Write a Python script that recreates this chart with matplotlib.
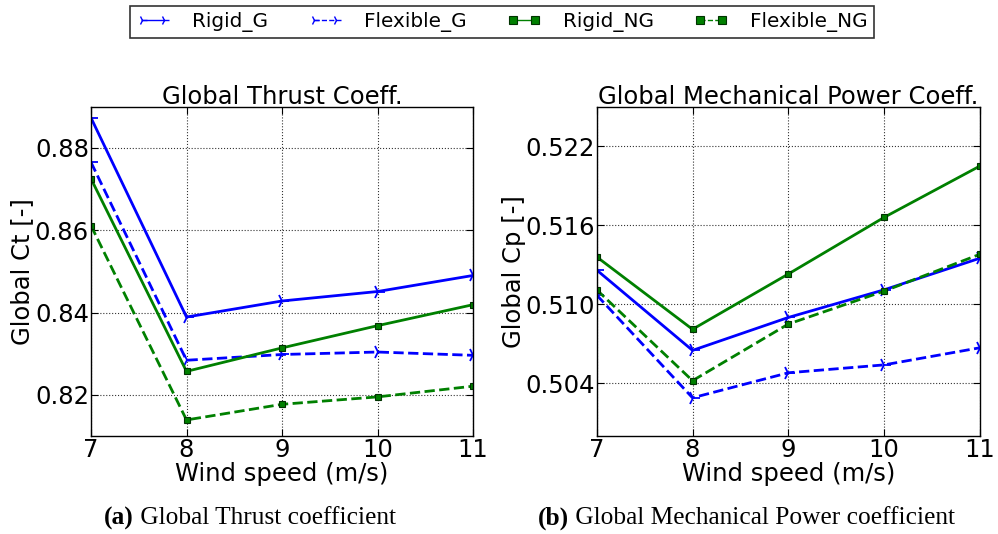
import matplotlib
matplotlib.use("Agg")
import matplotlib.pyplot as plt
from matplotlib.lines import Line2D

plt.rcParams["font.family"] = ["DejaVu Sans"]

wind = [7, 8, 9, 10, 11]
series = ["Rigid_G", "Flexible_G", "Rigid_NG", "Flexible_NG"]
ct_rigid_g = [0.8873, 0.8389, 0.8428, 0.8451, 0.8490]
ct_flex_g = [0.8765, 0.8284, 0.8298, 0.8304, 0.8296]
ct_rigid_ng = [0.8725, 0.8257, 0.8314, 0.8368, 0.8419]
ct_flex_ng = [0.8611, 0.8139, 0.8177, 0.8195, 0.8221]
cp_rigid_g = [0.5126, 0.5065, 0.5090, 0.5111, 0.5135]
cp_flex_g = [0.5107, 0.5029, 0.5048, 0.5054, 0.5067]
cp_rigid_ng = [0.5136, 0.5081, 0.5123, 0.5166, 0.5205]
cp_flex_ng = [0.5111, 0.5042, 0.5085, 0.5110, 0.5138]
ct_ticks = [0.82, 0.84, 0.86, 0.88]
cp_ticks = [0.504, 0.510, 0.516, 0.522]

colors = ["#0000ff", "#0000ff", "#008000", "#008000"]
linestyles = ["-", "--", "-", "--"]
markers = ["4", "4", "s", "s"]

FS = 17.5

fig = plt.figure(figsize=(9.98, 5.34), dpi=100)
W, H = 998, 534
ax1 = fig.add_axes([91 / W, 1 - 436 / H, (473 - 91) / W, (436 - 106.7) / H])
ax2 = fig.add_axes([596.7 / W, 1 - 436 / H, (980 - 596.7) / W, (436 - 106.7) / H])

def style(i, legend=False):
    d = dict(color=colors[i], linestyle=linestyles[i], marker=markers[i])
    if markers[i] == "4":
        d.update(markersize=7 if legend else 10, mew=1.0 if legend else 1.3)
    else:
        d.update(markersize=6 if legend else 5, mec="#003300", mew=0.8)
    d["lw"] = 1.0 if legend else 2.0
    return d

for ax, data, ticks, ylim, title, fmt in [
    (ax1, [ct_rigid_g, ct_flex_g, ct_rigid_ng, ct_flex_ng], ct_ticks, (0.81, 0.89),
     "Global Thrust Coeff.", "{:.2f}"),
    (ax2, [cp_rigid_g, cp_flex_g, cp_rigid_ng, cp_flex_ng], cp_ticks, (0.500, 0.525),
     "Global Mechanical Power Coeff.", "{:.3f}"),
]:
    for i, (name, vals) in enumerate(zip(series, data)):
        ax.plot(wind, vals, label=name, **style(i))
    ax.set_xlim(7, 11)
    ax.set_ylim(*ylim)
    ax.set_xticks(wind)
    ax.set_yticks(ticks)
    ax.set_yticklabels([fmt.format(t) for t in ticks])
    ax.grid(True, color="black", linestyle=":", linewidth=0.8, alpha=0.8)
    ax.tick_params(direction="in", top=True, right=True, labelsize=FS, length=5, pad=1.5)
    ax.set_title(title, fontsize=FS, pad=2)
    ax.set_xlabel("Wind speed (m/s)", fontsize=FS, labelpad=0)
    for s in ax.spines.values():
        s.set_linewidth(1.0)

ax1.set_ylabel("Global Ct [-]", fontsize=FS)
ax2.set_ylabel("Global Cp [-]", fontsize=FS)
ax1.yaxis.set_label_coords(-0.149, 0.5)
ax2.yaxis.set_label_coords(-0.184, 0.5)

proxies = [Line2D([], [], **style(i, legend=True)) for i in range(4)]
leg = fig.legend(proxies, series, loc="center", bbox_to_anchor=(502 / W, 1 - 22 / H),
                 ncol=4, fontsize=14.4, frameon=True, fancybox=False, edgecolor="black",
                 handlelength=1.7, handletextpad=1.1, columnspacing=2.0, borderpad=0.3,
                 numpoints=2)
leg.get_frame().set_linewidth(1.2)

cap_y = 1 - 518 / H
CFS = 18.3

def caption(xc, bold, rest):
    txt = fig.text(xc, cap_y, bold + " " + rest, fontsize=CFS, ha="center", va="center",
                   family="Liberation Serif", color="white")
    fig.canvas.draw()
    bb = txt.get_window_extent()
    x0 = bb.x0 / W
    txt.remove()
    tb = fig.text(x0, cap_y, bold, fontsize=CFS, ha="left", va="center",
                  family="Liberation Serif", weight="bold")
    fig.canvas.draw()
    bb2 = tb.get_window_extent()
    fig.text(bb2.x1 / W, cap_y, " " + rest, fontsize=CFS, ha="left", va="center",
             family="Liberation Serif")

caption(249 / W, "(a)", "Global Thrust coefficient")
caption(746 / W, "(b)", "Global Mechanical Power coefficient")

fig.savefig("out.png", dpi=100)
